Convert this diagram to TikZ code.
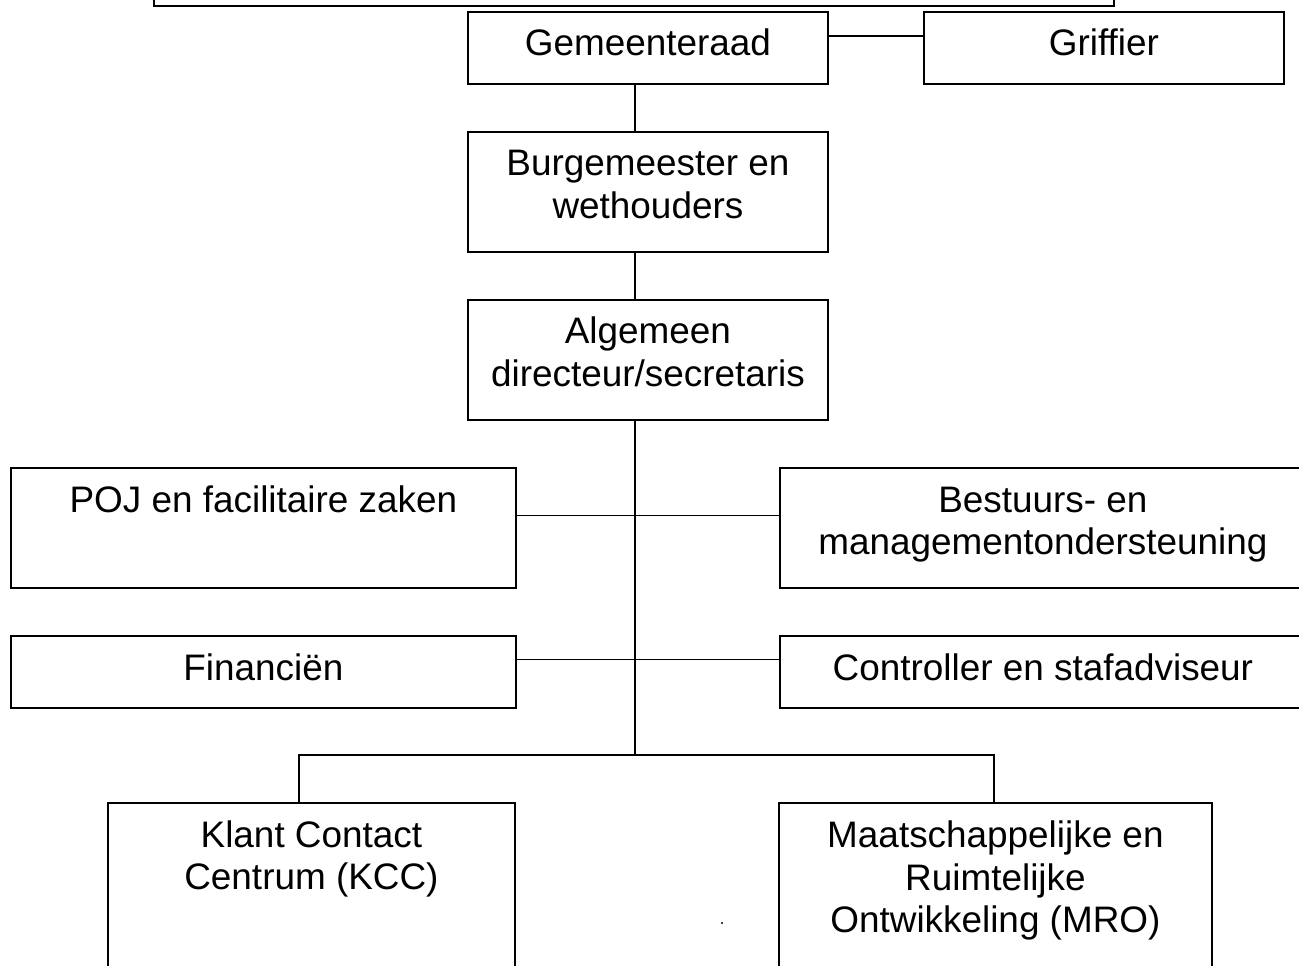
\documentclass[tikz,border=0pt]{standalone}
\usepackage{fontspec}
\setmainfont{Liberation Sans}
\newcommand\orgfont{\fontsize{21}{24.4}\selectfont}

\begin{document}
\begin{tikzpicture}[x=0.02cm, y=-0.02cm,
    orgbox/.style={draw, line width=1.1pt, inner sep=0pt, anchor=north west},
    orgtext/.style={anchor=base, align=center, font=\orgfont, inner sep=0pt},
    link/.style={line width=1pt}]
  \useasboundingbox (0,0) rectangle (1299,965);
  \clip (0,0) rectangle (1299,965);

  % boxes
  \node[orgbox, anchor=south west, minimum width=19.2cm, minimum height=2cm] (top) at (153,7) {};
  \node[orgbox, minimum width=7.2cm, minimum height=1.44cm] (gr) at (467,11) {};
  \node[orgbox, minimum width=7.2cm, minimum height=1.44cm] (gf) at (923,11) {};
  \node[orgbox, minimum width=7.2cm, minimum height=2.4cm] (bw) at (467,131) {};
  \node[orgbox, minimum width=7.2cm, minimum height=2.4cm] (ad) at (467,299) {};
  \node[orgbox, minimum width=10.1cm, minimum height=2.4cm] (poj) at (10,467) {};
  \node[orgbox, minimum width=10.52cm, minimum height=2.4cm] (bmo) at (779,467) {};
  \node[orgbox, minimum width=10.1cm, minimum height=1.44cm] (fin) at (10,635) {};
  \node[orgbox, minimum width=10.52cm, minimum height=1.44cm] (cs) at (779,635) {};
  \node[orgbox, minimum width=8.14cm, minimum height=4cm] (kcc) at (107,802) {};
  \node[orgbox, minimum width=8.66cm, minimum height=4cm] (mro) at (778,802) {};

  % texts (base = last line)
  \node[orgtext] (gr-t) at ([yshift=-0.88cm]gr.north) {Gemeenteraad};
  \node[orgtext] (gf-t) at ([yshift=-0.88cm]gf.north) {Griffier};
  \node[orgtext] (bw-t) at ([yshift=-1.75cm]bw.north) {Burgemeester en\\wethouders};
  \node[orgtext] (ad-t) at ([yshift=-1.75cm]ad.north) {Algemeen\\directeur/secretaris};
  \node[orgtext] (poj-t) at ([yshift=-0.9cm]poj.north) {POJ en facilitaire zaken};
  \node[orgtext] (bmo-t) at ([yshift=-1.76cm]bmo.north) {Bestuurs- en\\managementondersteuning};
  \node[orgtext] (fin-t) at ([yshift=-0.9cm]fin.north) {Financiën};
  \node[orgtext] (cs-t) at ([yshift=-0.9cm]cs.north) {Controller en stafadviseur};
  \node[orgtext] (kcc-t) at ([yshift=-1.76cm]kcc.north) {Klant Contact\\Centrum (KCC)};
  \node[orgtext] (mro-t) at ([yshift=-2.62cm]mro.north) {Maatschappelijke en\\Ruimtelijke\\Ontwikkeling (MRO)};

  % connectors
  \coordinate (spine) at (635,0);
  \coordinate (split) at (635,755);
  \coordinate (bl) at (299,755);
  \coordinate (br) at (994,755);
  \draw[link] ([yshift=0.24cm]gr.east) -- ([yshift=0.24cm]gf.west);
  \draw[link] (gr.south -| spine) -- (bw.north -| spine);
  \draw[link] (bw.south -| spine) -- (ad.north -| spine);
  \draw[link] (ad.south -| spine) -- (split);
  \draw[link] ([yshift=0.25cm]poj.east) -- ([yshift=0.25cm]bmo.west);
  \draw[link] ([yshift=0.25cm]fin.east) -- ([yshift=0.25cm]cs.west);
  \draw[link] (kcc.north -| bl) -- (bl) -- (br) -- (mro.north -| br);
  \fill (722,923) circle (0.6pt);
\end{tikzpicture}
\end{document}
